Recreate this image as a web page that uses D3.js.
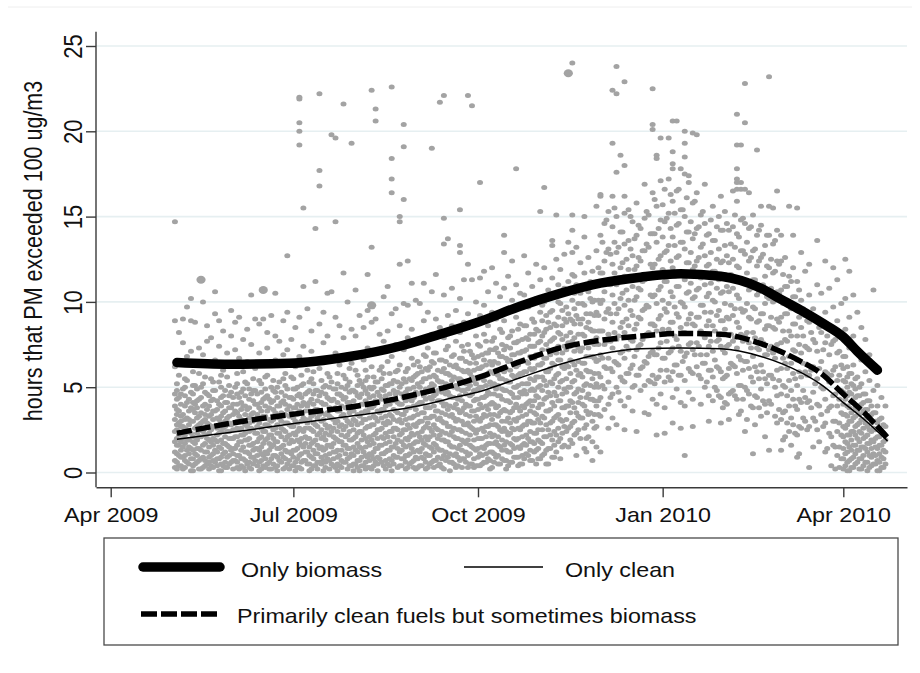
<!DOCTYPE html>
<html lang="en">
<head>
<meta charset="UTF-8">
<title>Hours PM exceeded 100 ug/m3</title>
<script src="https://d3js.org/d3.v7.min.js"></script>
<style>
  body { margin: 0; background: #fff; }
  text { font-family: "Liberation Sans", Arial, sans-serif; fill: #111; }
</style>
</head>
<body>
<div id="chart"></div>
<script>
// day offsets are counted from 1 May 2009
const startDay = Date.UTC(2009, 4, 1);

// daily observations, "day:values" (even days)
const obsEven = [
  "2:14.7 8.9 6.2 4.6 3.9 3.1 2.4 1.8 1.2 0.7 0.3",
  "4:8.2 5.7 4.4 3.6 2.9 2.2 1.6 1.0 0.4",
  "6:9.0 7.6 4.9 3.4 2.7 2.0 1.5 0.9 0.2",
  "8:9.7 6.8 5.4 4.1 3.2 2.5 1.9 1.3 0.6",
  "10:10.2 8.9 7.1 4.7 3.8 3.0 2.3 1.4 0.8 0.1",
  "12:8.8 6.4 5.1 4.0 3.5 2.6 1.7 1.1 0.5",
  "14:7.3 5.8 4.3 3.3 2.8 2.1 1.4 0.7 0.2",
  "16:10.0 6.9 5.2 3.9 3.0 2.4 1.6 0.9 0.3",
  "18:8.6 7.7 4.6 3.7 2.9 2.0 1.2 0.5",
  "20:7.9 5.5 4.2 3.4 2.5 1.8 1.0 0.4",
  "22:10.6 9.3 6.6 4.8 3.6 2.7 1.9 1.3 0.6",
  "24:8.9 7.4 5.3 4.0 3.1 2.3 1.5 0.8 0.1",
  "26:8.3 6.0 4.5 3.5 2.6 1.7 1.1 0.4",
  "28:7.0 5.6 4.1 3.2 2.4 1.6 0.9 0.3",
  "30:9.5 8.0 6.3 4.7 3.8 2.8 2.0 1.3 0.6",
  "32:8.8 7.2 5.0 3.6 2.9 2.1 1.4 0.7",
  "34:9.1 6.7 4.4 3.3 2.5 1.8 1.0 0.2",
  "36:7.8 5.9 4.9 3.9 3.0 2.2 1.5 0.8 0.3",
  "38:8.4 6.5 5.2 3.7 2.7 1.9 1.2 0.5",
  "40:10.4 7.5 4.6 3.4 2.6 1.6 0.9 0.2",
  "42:9.0 6.1 4.8 4.0 3.1 2.3 1.4 0.7",
  "44:8.7 7.0 5.4 3.8 2.9 2.0 1.3 0.6 0.1",
  "46:9.0 6.3 4.3 3.3 2.4 1.7 1.0 0.4",
  "48:8.2 7.3 5.7 4.5 3.6 2.8 2.0 1.1 0.5",
  "50:9.2 5.0 4.1 3.0 2.2 1.5 0.8 0.2",
  "52:10.5 8.0 6.6 4.7 3.5 2.6 1.8 1.0 0.3",
  "54:7.7 5.3 3.9 3.2 2.3 1.4 0.7",
  "56:8.9 6.9 5.5 4.2 3.4 2.5 1.6 0.9 0.2",
  "58:12.7 9.4 7.2 4.9 3.7 2.9 2.1 1.2 0.5",
  "60:7.8 5.6 4.4 3.5 2.7 1.9 1.1 0.4",
  "62:8.5 6.2 4.9 3.8 3.0 2.2 1.3 0.6 0.1",
  "64:22.0 21.9 20.5 20.0 19.2 9.1 6.8 4.6 3.6 2.6 1.8 1.0 0.3",
  "66:15.5 10.9 7.4 5.2 4.1 3.2 2.4 1.5 0.7",
  "68:9.6 6.0 4.7 3.9 2.9 2.0 1.2 0.5",
  "70:8.3 7.1 5.5 4.3 3.3 2.5 1.7 0.9 0.2",
  "72:14.3 11.2 6.5 4.8 3.7 2.8 1.9 1.1 0.4",
  "74:22.2 17.7 16.8 8.7 6.1 4.5 3.4 2.3 1.4 0.6",
  "76:9.4 7.6 5.0 4.0 3.1 2.1 1.3 0.7 0.1",
  "78:10.5 8.0 5.8 4.4 3.5 2.6 1.6 0.8",
  "80:19.8 10.6 6.7 5.3 4.2 3.2 2.4 1.5 0.5",
  "82:19.6 14.7 9.1 7.0 4.9 3.8 2.9 2.0 1.2 0.3",
  "84:8.6 6.3 4.6 3.6 2.7 1.8 1.0 0.4",
  "86:21.6 11.7 7.9 5.7 4.3 3.4 2.5 1.6 0.6",
  "88:10.0 6.9 5.1 4.1 3.0 2.2 1.4 0.8 0.2",
  "90:19.3 8.4 6.4 4.8 3.7 2.8 1.9 1.1 0.4",
  "92:10.7 8.0 6.0 4.7 3.9 3.0 2.1 1.3 0.5",
  "94:9.2 7.0 5.4 4.4 3.3 2.4 1.5 0.7 0.1",
  "96:8.5 6.6 5.0 4.0 3.1 2.2 1.2 0.4",
  "98:11.6 9.5 7.3 5.6 4.6 3.6 2.7 1.8 0.9 0.3",
  "100:22.4 13.2 8.8 6.2 4.9 3.8 2.8 1.9 1.0 0.2",
  "102:21.3 20.6 9.0 7.1 5.3 4.2 3.2 2.3 1.4 0.6",
  "104:8.1 6.0 4.5 3.5 2.5 1.6 0.8",
  "106:10.3 7.7 5.8 4.8 3.7 2.9 2.0 1.1 0.4",
  "108:10.9 8.3 6.5 5.1 4.1 3.0 2.1 1.3 0.5",
  "110:22.6 18.4 17.2 16.4 9.3 6.8 5.2 4.3 3.3 2.4 1.5 0.7 0.1",
  "112:9.6 7.5 5.9 4.6 3.6 2.6 1.7 0.9",
  "114:15.0 14.7 12.2 8.6 6.3 5.0 4.0 3.1 2.2 1.2 0.4",
  "116:20.4 19.1 16.0 9.9 7.2 5.5 4.4 3.4 2.5 1.6 0.8",
  "118:12.4 9.8 7.9 6.1 4.9 3.8 2.8 1.9 1.0 0.3",
  "120:11.1 8.4 6.7 5.4 4.2 3.2 2.3 1.4 0.6",
  "122:10.1 7.6 5.7 4.7 3.7 2.7 1.8 0.9 0.2",
  "124:9.9 7.8 6.2 5.0 4.1 3.0 2.1 1.2 0.4",
  "126:11.1 8.9 6.9 5.5 4.5 3.5 2.6 1.7 0.8",
  "128:9.4 7.3 6.0 4.8 3.8 2.9 1.9 1.0 0.3",
  "130:19.0 10.6 8.1 6.5 5.2 4.3 3.3 2.4 1.4 0.6",
  "132:11.6 9.0 7.0 5.6 4.6 3.6 2.6 1.6 0.7",
  "134:21.7 8.5 6.6 5.3 4.2 3.2 2.2 1.3 0.5",
  "136:22.1 14.9 13.4 10.4 7.9 6.1 4.9 3.9 2.9 1.9 1.0 0.2",
  "138:13.7 9.2 7.4 5.8 4.7 3.7 2.7 1.8 0.9",
  "140:10.8 8.6 6.8 5.4 4.4 3.4 2.4 1.5 0.6",
  "142:9.5 7.7 6.3 5.1 4.0 3.0 2.0 1.1 0.3",
  "144:15.4 13.3 12.9 10.2 8.2 6.7 5.5 4.5 3.5 2.5 1.6 0.7",
  "146:11.3 8.8 7.1 5.9 4.8 3.8 2.8 1.8 0.8",
  "148:22.1 12.2 9.3 7.5 6.0 4.9 3.9 2.9 1.9 1.0 0.3",
  "150:21.5 11.3 8.7 6.9 5.6 4.6 3.6 2.6 1.5 0.5",
  "152:10.0 8.0 6.4 5.2 4.3 3.3 2.3 1.3 0.4",
  "154:17.0 11.4 9.2 7.4 6.1 5.0 4.0 3.0 2.0 1.1 0.4",
  "156:11.8 9.8 8.1 6.6 5.4 4.4 3.4 2.4 1.4 0.6",
  "158:10.6 8.6 7.0 5.8 4.7 3.7 2.7 1.7 0.8",
  "160:12.0 9.4 7.7 6.3 5.1 4.1 3.1 2.1 1.2 0.3",
  "162:11.1 9.0 7.3 6.0 4.9 3.8 2.8 1.8 0.9",
  "164:10.3 8.4 6.8 5.5 4.5 3.5 2.5 1.5 0.5",
  "166:13.9 12.9 10.8 8.9 7.2 5.9 4.8 3.7 2.6 1.6 0.7",
  "168:11.5 9.6 7.9 6.5 5.3 4.2 3.2 2.2 1.2 0.4",
  "170:12.4 10.1 8.3 6.9 5.7 4.6 3.6 2.6 1.6 0.6",
  "172:17.8 11.0 9.1 7.6 6.2 5.0 4.0 3.0 1.9 0.9",
  "174:10.5 8.7 7.0 5.8 4.7 3.6 2.5 1.4 0.5",
  "176:12.7 10.4 8.6 7.1 5.9 4.8 3.8 2.8 1.7 0.8",
  "178:11.7 9.7 7.8 6.4 5.2 4.1 3.0 2.0 1.0",
  "180:10.9 9.0 7.4 6.0 4.9 3.9 2.9 1.8 0.7",
  "182:12.2 10.2 8.4 6.9 5.6 4.5 3.4 2.3 1.3 0.5",
  "184:15.3 11.3 9.4 7.7 6.3 5.1 4.0 2.9 1.8 0.8",
  "186:16.7 12.0 10.0 8.2 6.7 5.4 4.3 3.2 2.1 1.1",
  "188:10.7 8.8 7.2 5.9 4.7 3.6 2.5 1.4 0.5",
  "190:13.6 13.3 11.4 9.5 7.8 6.4 5.2 4.1 3.0 1.9 0.9",
  "192:15.1 12.5 10.4 8.6 7.0 5.7 4.5 3.3 2.2 1.2",
  "194:11.9 9.9 8.1 6.6 5.3 4.2 3.1 2.0 0.8",
  "196:12.8 10.8 9.0 7.4 6.1 4.9 3.8 2.7 1.6",
  "198:13.5 11.2 9.3 7.6 6.2 5.0 3.9 2.6 1.5",
  "200:24.0 15.1 14.2 12.9 11.6 10.1 8.9 7.7 6.5 5.3 4.1 2.9 1.7",
  "202:13.2 11.0 9.2 7.5 6.0 4.7 3.5 2.3 1.0",
  "204:12.3 10.5 8.7 7.1 5.8 4.4 3.2 2.0",
  "206:15.0 13.8 11.7 9.8 8.0 6.4 5.1 3.9 2.6 1.4",
  "208:12.6 10.6 8.8 7.3 5.9 4.6 3.4 2.1",
  "210:11.8 10.0 8.3 6.8 5.5 4.3 3.0 1.8 0.7",
  "212:15.6 13.0 11.1 9.4 7.9 6.5 5.2 3.9 2.7 1.5",
  "214:16.2 16.3 13.9 11.7 9.9 8.3 6.9 5.6 4.4 3.3 1.2",
  "216:14.6 12.4 10.6 9.0 7.5 6.2 4.9 3.7",
  "218:15.3 13.1 11.2 9.6 8.1 6.7 5.3 4.0 2.6",
  "220:22.4 19.3 16.2 14.4 12.2 10.4 8.8 7.3 5.9 4.6 3.2",
  "222:23.8 22.2 17.6 15.0 12.9 11.0 9.3 7.8 6.4 5.0 2.8",
  "224:18.6 14.1 12.0 10.2 8.5 7.0 5.6 4.2",
  "226:22.9 18.0 16.2 15.2 13.4 11.5 9.8 8.2 6.7 5.3 3.9 2.5",
  "228:15.4 13.6 11.9 10.1 8.6 7.2 5.8 4.4",
  "230:14.7 12.7 10.9 9.2 7.7 6.3 5.0 3.6",
  "232:15.8 13.9 12.1 10.3 8.7 7.2 5.7 2.4",
  "234:14.3 12.4 10.7 9.0 7.5 6.1 4.8",
  "236:16.9 14.9 13.0 11.3 9.6 8.0 6.5 5.1 3.5",
  "238:15.1 13.2 11.4 9.7 8.2 6.8 5.4 3.4",
  "240:22.5 20.4 20.1 16.4 14.0 12.0 10.3 8.7 7.1 5.7 4.3",
  "242:18.6 18.4 15.6 13.5 11.6 9.9 8.3 6.9 5.5 4.0 2.2",
  "244:19.6 17.1 14.8 12.7 10.9 9.2 7.6 6.0 4.6",
  "246:16.6 14.7 12.9 11.2 9.6 8.1 6.7 5.3 3.8 2.3",
  "248:19.6 17.2 15.2 13.3 11.5 9.9 8.4 7.0 5.6",
  "250:20.6 18.8 18.1 17.8 15.9 13.8 12.0 10.3 8.8 7.3 5.9 4.4 2.9",
  "252:20.6 16.5 14.5 12.6 10.9 9.3 7.8 6.3 4.9",
  "254:17.8 15.4 13.5 11.7 10.0 8.5 7.1 5.7 4.1 2.6",
  "256:20.0 19.3 18.5 17.5 15.0 13.1 11.3 9.7 8.2 6.8 5.4 3.9 1.0",
  "258:17.4 17.0 14.1 12.3 10.6 9.0 7.5 6.1 4.7",
  "260:19.9 15.8 13.7 11.9 10.2 8.7 7.2 5.8 4.3 2.7",
  "262:19.8 16.4 14.3 12.4 10.7 9.1 7.6 6.2",
  "264:15.1 13.2 11.4 9.8 8.3 6.9 5.5 4.0",
  "266:16.9 14.6 12.7 11.0 9.4 7.9 6.4 5.0",
  "268:14.0 12.2 10.5 8.9 7.4 6.0 4.5 3.0",
  "270:15.6 13.6 11.8 10.1 8.6 7.1 5.6 4.2",
  "272:14.4 12.5 10.8 9.2 7.7 6.2 4.8",
  "274:16.2 14.2 12.3 10.5 8.9 7.4 5.9 4.4 2.9",
  "276:15.3 13.3 11.6 9.9 8.4 7.0 5.6 4.1",
  "278:14.2 12.3 10.6 9.0 7.5 6.1 4.6 3.1",
  "280:16.5 14.4 12.5 10.8 9.2 7.7 6.3 4.8",
  "282:21.0 19.2 17.8 17.2 17.0 16.6 15.9 14.0 12.1 10.4 8.8 7.3 5.8 4.3",
  "284:19.2 17.0 16.6 14.8 13.0 11.2 9.6 8.1 6.6 5.1 3.6",
  "286:22.8 20.5 16.6 14.6 12.8 11.1 9.5 8.0 6.5 5.0 2.4",
  "288:16.4 14.3 12.4 10.7 9.1 7.6 6.1 4.6",
  "290:15.1 13.0 11.3 9.7 8.2 6.8 5.3 3.8 1.1",
  "292:18.9 13.9 12.1 10.4 8.8 7.3 5.9 4.4",
  "294:15.6 14.5 12.6 10.9 9.3 7.8 6.3 4.9 3.3",
  "296:13.3 11.5 9.9 8.4 6.9 5.5 4.0 2.1",
  "298:23.2 15.6 13.9 12.0 10.2 8.6 7.2 5.7 4.2 1.3",
  "300:15.5 13.4 11.7 10.0 8.5 7.0 5.5",
  "302:16.5 14.2 12.4 10.6 9.0 7.5 6.0 4.5 2.9",
  "304:13.9 12.4 10.7 9.1 7.6 6.1 4.6 3.1 1.3",
  "306:12.6 10.9 9.3 7.8 6.4 5.0 3.6 2.1",
  "308:15.6 11.5 9.8 8.3 6.8 5.4 3.9 2.4",
  "310:13.9 12.0 10.3 8.7 7.2 5.8 4.3 2.8",
  "312:15.5 11.2 9.5 8.0 6.6 5.1 3.7 2.2 0.9",
  "314:12.9 10.1 8.5 7.0 5.6 4.1 2.6",
  "316:11.8 9.2 7.4 5.9 4.4 3.0",
  "318:12.2 10.4 8.8 7.2 5.7 4.2 2.7 0.3",
  "320:9.6 7.8 6.2 4.7 3.2 1.5",
  "322:13.6 11.0 8.9 7.1 5.5 4.0 2.5",
  "324:10.5 8.2 6.5 5.0 3.4",
  "326:12.4 9.4 7.6 5.9 4.3 2.9 1.2",
  "328:10.8 8.6 6.9 5.3 3.8 2.3",
  "330:12.0 9.7 7.7 6.0 4.5 3.0 1.6",
  "332:11.3 8.9 7.0 5.4 3.9 2.4 1.0",
  "334:9.9 7.9 6.3 4.8 3.5 2.2 0.8",
  "336:12.5 10.2 8.4 6.8 5.3 4.3 3.4 2.6 1.8 1.1 0.4",
  "338:11.8 9.1 7.3 5.8 4.7 3.8 3.0 2.2 1.5 0.7 0.1",
  "340:10.4 8.0 6.3 5.1 4.1 3.2 2.4 1.6 0.9 0.3",
  "342:9.4 7.2 5.6 4.5 3.6 2.8 2.0 1.3 0.6",
  "344:8.5 6.6 5.2 4.0 3.1 2.3 1.5 0.8 0.2",
  "346:7.8 5.9 4.6 3.7 2.9 2.1 1.4 0.6",
  "348:6.9 5.4 4.2 3.3 2.5 1.7 1.0 0.3",
  "350:10.7 6.2 4.8 3.5 2.6 1.8 1.1 0.5",
  "352:5.1 3.9 2.9 2.1 1.4 0.7 0.1",
  "354:4.4 3.2 2.4 1.6 0.9 0.3",
  "356:3.9 2.7 1.9 1.2 0.5"
];

// odd days
const obsOdd = [
  "3:5.2 4.8 4.3 3.7 3.4 2.8 2.5 2.0 1.6 1.1 0.6 0.2",
  "5:4.6 4.0 3.3 3.0 2.7 2.3 1.8 1.3 0.9 0.4",
  "7:5.5 5.0 4.5 3.9 3.1 2.6 2.2 1.7 1.0 0.7 0.3",
  "9:4.3 3.6 3.1 2.8 2.4 1.9 1.5 1.1 0.5",
  "11:5.9 5.1 4.6 4.1 3.7 3.0 2.1 1.8 1.3 0.8 0.4 0.1",
  "13:4.9 4.2 3.8 3.2 2.7 2.3 1.9 1.4 1.0 0.6",
  "15:5.0 4.4 3.5 2.9 2.5 2.1 1.3 0.8 0.2",
  "17:5.6 4.7 4.0 3.4 3.1 2.6 2.2 1.7 1.2 0.7 0.4",
  "19:4.5 3.9 3.3 2.8 2.3 1.9 1.5 0.9 0.6 0.2",
  "21:5.3 4.8 4.3 3.6 3.1 2.7 2.0 1.6 1.1 0.7 0.3",
  "23:4.2 3.7 3.2 2.6 2.2 1.8 1.2 0.8 0.4",
  "25:5.7 5.0 4.4 3.9 3.3 2.9 2.4 1.9 1.4 0.9 0.5 0.1",
  "27:4.8 4.1 3.6 3.0 2.7 2.1 1.7 1.2 0.6 0.3",
  "29:5.1 4.5 3.8 3.3 2.9 2.4 2.0 1.5 1.0 0.5",
  "31:4.4 4.0 3.4 2.9 2.5 2.0 1.4 1.1 0.7 0.2",
  "33:5.8 5.2 4.6 4.0 3.5 3.0 2.6 2.1 1.6 1.0 0.6 0.3",
  "35:4.7 4.1 3.7 3.1 2.6 2.2 1.8 1.3 0.8 0.4",
  "37:5.3 4.5 3.9 3.4 2.8 2.3 1.9 1.2 0.7 0.1",
  "39:4.9 4.3 3.8 3.2 2.9 2.4 2.0 1.6 1.1 0.6 0.3",
  "41:5.5 4.8 4.2 3.5 3.0 2.5 1.7 1.3 0.9 0.5",
  "43:4.6 4.0 3.4 2.7 2.3 1.8 1.4 1.0 0.4",
  "45:5.2 4.7 4.1 3.6 3.2 2.6 2.1 1.5 1.1 0.7 0.2",
  "47:5.6 4.9 4.4 3.9 3.3 2.8 2.4 1.9 1.2 0.8 0.3",
  "49:4.3 3.8 3.1 2.7 2.2 1.7 1.3 0.6 0.2",
  "51:5.4 4.8 4.2 3.7 3.1 2.5 2.0 1.6 1.0 0.5",
  "53:5.0 4.4 3.9 3.3 2.8 2.3 1.8 1.4 0.9 0.4 0.1",
  "55:4.7 4.1 3.5 3.0 2.6 2.1 1.5 1.1 0.6",
  "57:5.8 5.1 4.5 4.0 3.4 2.9 2.4 1.9 1.3 0.8 0.3",
  "59:4.4 3.9 3.3 2.8 2.2 1.7 1.2 0.7 0.2",
  "61:5.5 4.9 4.3 3.8 3.2 2.7 2.3 1.8 1.3 0.9 0.4",
  "63:5.0 4.5 4.0 3.4 2.9 2.4 1.9 1.4 0.8 0.3",
  "65:5.7 5.1 4.4 3.9 3.5 3.0 2.5 2.0 1.6 1.1 0.6 0.2",
  "67:4.6 4.0 3.6 3.1 2.6 2.1 1.7 1.2 0.7",
  "69:5.3 4.8 4.1 3.6 3.1 2.6 2.0 1.5 1.0 0.5 0.1",
  "71:5.9 5.2 4.6 4.0 3.4 2.9 2.4 1.8 1.3 0.8 0.4",
  "73:4.8 4.2 3.7 3.2 2.7 2.2 1.6 1.1 0.6 0.2",
  "75:5.4 4.7 4.1 3.5 3.0 2.5 2.0 1.5 0.9 0.5",
  "77:5.1 4.6 4.0 3.4 2.8 2.3 1.9 1.4 1.0 0.6 0.3",
  "79:5.6 5.0 4.3 3.8 3.3 2.7 2.2 1.6 1.1 0.7 0.2",
  "81:4.9 4.3 3.7 3.1 2.6 2.1 1.7 1.2 0.8 0.4",
  "83:5.8 5.2 4.6 4.1 3.6 3.0 2.4 1.9 1.3 0.9 0.5 0.1",
  "85:5.0 4.5 3.9 3.3 2.8 2.2 1.8 1.3 0.7 0.3",
  "87:5.5 4.9 4.4 3.8 3.2 2.7 2.1 1.6 1.1 0.6",
  "89:6.1 5.3 4.7 4.1 3.5 2.9 2.4 1.9 1.4 0.9 0.4",
  "91:4.8 4.2 3.6 3.1 2.5 2.0 1.5 1.0 0.5 0.1",
  "93:5.7 5.1 4.5 3.9 3.4 2.8 2.3 1.7 1.2 0.7 0.3",
  "95:5.2 4.6 4.0 3.5 2.9 2.4 1.9 1.4 0.9 0.4",
  "97:6.0 5.4 4.8 4.2 3.6 3.1 2.6 2.0 1.5 1.0 0.6 0.2",
  "99:5.0 4.4 3.8 3.2 2.7 2.1 1.6 1.1 0.7 0.3",
  "101:5.6 5.0 4.5 3.9 3.3 2.8 2.2 1.7 1.2 0.8 0.4",
  "103:5.3 4.7 4.1 3.6 3.0 2.5 2.0 1.4 0.9 0.5 0.1",
  "105:6.2 5.5 4.9 4.3 3.7 3.2 2.6 2.1 1.6 1.1 0.6",
  "107:5.1 4.5 3.9 3.3 2.8 2.3 1.7 1.2 0.7 0.2",
  "109:5.8 5.2 4.6 4.0 3.4 2.9 2.4 1.8 1.3 0.8 0.4",
  "111:5.4 4.8 4.2 3.7 3.1 2.6 2.1 1.5 1.0 0.5",
  "113:6.0 5.3 4.7 4.1 3.5 3.0 2.5 1.9 1.4 0.9 0.3",
  "115:5.2 4.6 4.0 3.4 2.9 2.3 1.8 1.3 0.8 0.4",
  "117:5.9 5.3 4.7 4.2 3.6 3.1 2.5 2.0 1.5 1.0 0.6 0.2",
  "119:5.5 4.9 4.3 3.8 3.2 2.6 2.1 1.6 1.1 0.5",
  "121:6.3 5.6 5.0 4.4 3.9 3.3 2.8 2.2 1.7 1.2 0.7 0.3",
  "123:6.5 5.8 5.2 4.6 4.0 3.4 2.9 2.3 1.8 1.3 0.8 0.3",
  "125:5.9 5.3 4.7 4.1 3.5 3.0 2.4 1.9 1.4 0.9 0.4",
  "127:6.8 6.1 5.5 4.9 4.3 3.8 3.2 2.7 2.1 1.6 1.1 0.6 0.2",
  "129:6.2 5.6 5.0 4.4 3.8 3.2 2.6 2.1 1.5 1.0 0.5",
  "131:7.0 6.4 5.7 5.1 4.5 3.9 3.3 2.8 2.2 1.7 1.2 0.7 0.3",
  "133:6.0 5.4 4.8 4.2 3.6 3.1 2.5 2.0 1.4 0.9 0.4",
  "135:6.6 5.9 5.3 4.7 4.1 3.5 3.0 2.4 1.9 1.3 0.8 0.3",
  "137:7.2 6.5 5.8 5.2 4.6 4.0 3.4 2.9 2.3 1.8 1.2 0.7",
  "139:6.3 5.7 5.1 4.5 3.9 3.3 2.7 2.2 1.6 1.1 0.6 0.1",
  "141:6.9 6.2 5.6 5.0 4.4 3.8 3.2 2.6 2.1 1.5 1.0 0.5",
  "143:6.1 5.5 4.9 4.3 3.7 3.1 2.5 2.0 1.4 0.9 0.4",
  "145:7.4 6.7 6.0 5.4 4.8 4.2 3.6 3.0 2.4 1.9 1.3 0.8 0.3",
  "147:6.5 5.9 5.2 4.6 4.0 3.4 2.8 2.3 1.7 1.2 0.6",
  "149:7.1 6.4 5.8 5.1 4.5 3.9 3.3 2.7 2.2 1.6 1.1 0.5",
  "151:6.7 6.0 5.4 4.8 4.2 3.6 3.0 2.5 1.9 1.4 0.8 0.3",
  "153:7.5 6.8 6.1 5.5 4.9 4.3 3.7 3.1 2.5 2.0 1.4 0.9 0.4",
  "155:6.9 6.2 5.6 5.0 4.4 3.8 3.2 2.6 2.0 1.5 1.0 0.5",
  "157:7.7 7.0 6.3 5.7 5.1 4.5 3.9 3.3 2.7 2.1 1.6 1.1 0.6",
  "159:7.2 6.5 5.9 5.3 4.6 4.0 3.4 2.8 2.3 1.7 1.2 0.7 0.2",
  "161:7.9 7.2 6.5 5.8 5.2 4.6 4.0 3.4 2.8 2.2 1.7 1.1 0.6",
  "163:7.0 6.4 5.7 5.1 4.5 3.9 3.3 2.7 2.1 1.6 1.0 0.5",
  "165:8.2 7.5 6.8 6.1 5.5 4.9 4.3 3.6 3.0 2.4 1.9 1.3 0.8",
  "167:7.4 6.7 6.1 5.4 4.8 4.2 3.6 3.0 2.4 1.8 1.3 0.7 0.2",
  "169:8.0 7.3 6.6 6.0 5.3 4.7 4.1 3.5 2.9 2.3 1.7 1.2 0.6",
  "171:7.6 6.9 6.3 5.6 5.0 4.4 3.8 3.1 2.5 2.0 1.4 0.9",
  "173:8.4 7.7 7.0 6.3 5.7 5.1 4.4 3.8 3.2 2.6 2.0 1.5 0.9 0.4",
  "175:7.8 7.1 6.5 5.8 5.2 4.6 3.9 3.3 2.7 2.1 1.6 1.0 0.5",
  "177:8.6 7.9 7.2 6.5 5.9 5.2 4.6 4.0 3.4 2.8 2.2 1.6 1.1",
  "179:8.1 7.4 6.8 6.1 5.5 4.8 4.2 3.6 3.0 2.4 1.8 1.3 0.7",
  "181:8.8 8.1 7.4 6.7 6.1 5.4 4.8 4.2 3.5 2.9 2.3 1.7 1.2",
  "183:8.3 7.6 6.9 6.3 5.6 5.0 4.4 3.8 3.1 2.5 1.9 1.4 0.8",
  "185:9.8 8.9 8.0 7.2 6.4 5.6 4.8 4.0 3.3 2.5 1.7 1.0",
  "187:9.2 8.4 7.5 6.7 5.9 5.1 4.4 3.6 2.8 2.1 1.3 0.5",
  "189:10.3 9.4 8.5 7.7 6.9 6.1 5.3 4.5 3.7 2.9 2.2 1.4",
  "191:8.7 7.9 7.1 6.3 5.5 4.7 3.9 3.2 2.4 1.6 0.9",
  "193:11.0 10.0 9.1 8.2 7.4 6.6 5.8 5.0 4.2 3.4 2.6 1.8",
  "195:9.5 8.6 7.8 7.0 6.2 5.4 4.6 3.8 3.0 2.3 1.5",
  "197:10.6 9.7 8.8 8.0 7.2 6.3 5.5 4.7 3.9 3.1 2.4",
  "199:9.0 8.2 7.4 6.6 5.8 5.0 4.2 3.5 2.7 1.9",
  "201:11.5 10.5 9.6 8.7 7.9 7.1 6.3 5.4 4.6 3.8 3.0 2.2",
  "203:9.9 9.0 8.1 7.3 6.5 5.7 4.9 4.1 3.3 2.5",
  "205:10.8 9.9 9.0 8.1 7.3 6.4 5.6 4.8 4.0 3.2",
  "207:9.3 8.5 7.6 6.8 6.0 5.2 4.4 3.6 2.8 2.0 1.2",
  "209:11.2 10.2 9.3 8.4 7.6 6.8 5.9 5.1 4.3 3.5",
  "211:10.1 9.2 8.3 7.5 6.7 5.8 5.0 4.2 3.4 2.6",
  "213:12.0 11.0 10.1 9.2 8.3 7.5 6.6 5.8 5.0 4.2 3.4",
  "215:13.5 11.7 10.1 8.3 6.7 5.1",
  "217:14.8 12.9 11.1 9.4 7.7 6.1",
  "219:12.8 11.0 9.3 7.7 6.1 4.4",
  "221:15.5 13.5 11.7 9.9 8.2 6.5",
  "223:13.2 11.4 9.6 8.0 6.3 4.7",
  "225:14.1 12.3 10.5 8.8 7.1 5.4",
  "227:12.5 10.7 9.0 7.4 5.8",
  "229:15.0 13.1 11.3 9.5 7.8 6.1",
  "231:13.7 11.9 10.1 8.4 6.8 5.1",
  "233:14.5 12.6 10.8 9.1 7.4 5.7",
  "235:13.0 11.2 9.5 7.8 6.2",
  "237:15.3 13.4 11.6 9.8 8.1 6.4",
  "239:14.0 12.2 10.4 8.7 7.0 5.3",
  "241:16.0 14.0 12.2 10.4 8.6 6.9 5.2",
  "243:14.3 12.5 10.7 9.0 7.3 5.6",
  "245:15.7 13.8 11.9 10.1 8.4 6.7",
  "247:14.9 13.0 11.2 9.4 7.7 6.0",
  "249:16.3 14.3 12.4 10.6 8.8 7.1 5.4",
  "251:15.2 13.3 11.5 9.7 8.0 6.3",
  "253:16.6 14.6 12.7 10.9 9.1 7.4 5.7",
  "255:15.4 13.5 11.7 9.9 8.2 6.5",
  "257:16.1 14.1 12.3 10.5 8.7 7.0",
  "259:14.7 12.9 11.1 9.3 7.6 5.9",
  "261:15.9 14.0 12.1 10.3 8.6 6.9",
  "263:14.4 12.6 10.8 9.1 7.4 5.7",
  "265:15.3 13.4 11.6 9.8 8.1 6.4",
  "267:13.9 12.1 10.3 8.6 6.9 5.3",
  "269:14.8 12.9 11.1 9.4 7.7 6.0",
  "271:13.6 11.8 10.0 8.3 6.6 5.0",
  "273:15.0 13.1 11.3 9.5 7.8 6.1 4.5",
  "275:14.2 12.4 10.6 8.9 7.2 5.5 3.8",
  "277:14.6 12.7 10.9 9.1 7.4 5.7 4.0",
  "279:13.4 11.6 9.8 8.1 6.4 4.7",
  "281:15.1 13.2 11.4 9.6 7.9 6.2 4.5",
  "283:13.8 12.0 10.2 8.5 6.8 5.1 3.4",
  "285:14.9 13.0 11.2 9.4 7.7 6.0 4.3",
  "287:13.5 11.7 9.9 8.2 6.5 4.8 3.1",
  "289:14.4 12.6 10.8 9.0 7.3 5.6 3.9",
  "291:13.1 11.3 9.6 7.9 6.2 4.5 2.8",
  "293:14.2 12.4 10.6 8.9 7.2 5.5 3.8",
  "295:12.8 11.0 9.3 7.6 5.9 4.2",
  "297:13.9 12.1 10.3 8.6 6.9 5.2 3.5",
  "299:12.5 10.8 9.1 7.4 5.7 4.0",
  "301:13.6 11.8 10.1 8.4 6.7 5.0 3.3",
  "303:12.2 10.5 8.8 7.1 5.4 3.7",
  "305:11.6 9.9 8.3 6.7 5.1 3.5 1.9",
  "307:10.9 9.3 7.7 6.1 4.5 2.9",
  "309:11.2 9.6 8.0 6.4 4.8 3.2 1.6",
  "311:10.3 8.7 7.1 5.5 3.9 2.3",
  "313:10.7 9.1 7.5 5.9 4.3 2.7 1.1",
  "315:9.6 8.0 6.4 4.8 3.2",
  "317:8.9 7.3 5.7 4.1 2.5",
  "319:8.2 6.0 3.8",
  "321:7.6 5.2 3.0",
  "323:8.5 6.1 3.9 1.8",
  "325:7.2 4.9 2.7",
  "327:8.0 5.8 3.6 1.4",
  "329:7.5 5.7 3.9 2.1 0.4",
  "331:7.8 6.2 4.6 3.0 1.5 0.2",
  "333:7.1 5.7 4.3 2.9 1.5 0.3",
  "335:6.8 6.1 5.4 4.7 4.0 3.4 2.7 2.1 1.4 0.8 0.2",
  "337:6.2 5.6 5.0 4.5 3.9 3.3 2.8 2.2 1.7 1.2 0.6 0.1",
  "339:5.8 5.2 4.6 4.1 3.5 3.0 2.4 1.9 1.3 0.8 0.3",
  "341:5.5 4.9 4.4 3.8 3.3 2.7 2.2 1.6 1.1 0.5",
  "343:5.0 4.5 3.9 3.4 2.9 2.4 1.8 1.3 0.8 0.2",
  "345:4.6 4.1 3.6 3.1 2.6 2.0 1.5 1.0 0.4",
  "347:4.2 3.7 3.2 2.7 2.2 1.7 1.2 0.6 0.1",
  "349:3.9 3.4 2.9 2.4 1.9 1.4 0.9 0.4",
  "351:3.5 3.0 2.5 2.0 1.5 1.0 0.5",
  "353:3.1 2.6 2.1 1.6 1.1 0.6 0.1",
  "355:2.8 2.3 1.8 1.3 0.8 0.3"
];

// a few heavier (overlapping) observations
const bigDays = [15, 46, 100, 198];
const bigValues = [11.3, 10.7, 9.8, 23.4];

// smoothed lines
const lineDates = ["2009-05-04", "2009-05-30", "2009-06-29", "2009-07-29", "2009-08-23", "2009-09-12",
  "2009-10-02", "2009-10-22", "2009-11-11", "2009-12-01", "2009-12-21", "2010-01-10", "2010-01-30",
  "2010-02-19", "2010-03-01", "2010-03-11", "2010-03-21", "2010-04-01", "2010-04-08", "2010-04-18"];
const biomassValues = [6.45, 6.35, 6.4, 6.8, 7.4, 8.1, 8.85, 9.75, 10.5, 11.1, 11.45, 11.65, 11.5,
  10.8, 10.15, 9.5, 8.8, 7.95, 7.1, 6.0];

const otherDates = ["2009-05-04", "2009-06-03", "2009-07-03", "2009-08-02", "2009-09-01", "2009-09-21",
  "2009-10-02", "2009-10-22", "2009-11-11", "2009-12-01", "2009-12-21", "2010-01-10", "2010-01-30",
  "2010-02-19", "2010-03-11", "2010-03-21", "2010-04-01", "2010-04-11", "2010-04-23"];
const mixedValues = [2.3, 2.95, 3.45, 3.9, 4.6, 5.2, 5.6, 6.5, 7.3, 7.75, 8.0, 8.15, 8.1,
  7.55, 6.5, 5.8, 4.6, 3.55, 2.05];
const cleanValues = [1.95, 2.4, 2.9, 3.35, 3.9, 4.45, 4.75, 5.55, 6.35, 6.95, 7.25, 7.3, 7.25,
  6.8, 5.85, 5.15, 4.1, 3.15, 1.85];

const xTicks = ["2009-04-01", "2009-07-01", "2009-10-01", "2010-01-01", "2010-04-01"];
const yTicks = [0, 5, 10, 15, 20, 25];
const yTitle = "hours that PM exceeded 100 ug/m3";
const legendLabels = ["Only biomass", "Only clean", "Primarily clean fuels but sometimes biomass"];

const width = 920, height = 673;
const stretch = 1.165;  // the picture is wider than its text height

const svg = d3.select("#chart").append("svg")
  .attr("width", width)
  .attr("height", height);

const parse = d3.utcParse("%Y-%m-%d");
const dayToDate = d => new Date(startDay + d * 86400000);

const x = d3.scaleUtc()
  .domain([parse("2009-04-01"), parse("2010-04-01")])
  .range([110.7, 843.3]);
x.domain([x.invert(96), x.invert(907)]).range([96, 907]);

const y = d3.scaleLinear()
  .domain([0, 25])
  .range([472.5, 46]);

// outer frame line
svg.append("line")
  .attr("x1", 8).attr("x2", 912).attr("y1", 7).attr("y2", 7)
  .attr("stroke", "#eeeeee").attr("stroke-width", 1);

// gridlines
svg.append("g").selectAll("line")
  .data(yTicks)
  .enter().append("line")
  .attr("x1", 96).attr("x2", 907)
  .attr("y1", d => y(d)).attr("y2", d => y(d))
  .attr("stroke", "#e6eff1")
  .attr("stroke-width", 1.6);

// scatter
const points = [];
obsEven.concat(obsOdd).forEach(function (s) {
  const parts = s.split(":");
  const day = +parts[0];
  parts[1].split(" ").forEach(function (v) {
    points.push({ date: dayToDate(day), value: +v });
  });
});

svg.append("g").selectAll("ellipse")
  .data(points)
  .enter().append("ellipse")
  .attr("cx", d => x(d.date))
  .attr("cy", d => y(d.value))
  .attr("rx", 3.0)
  .attr("ry", 2.5)
  .attr("fill", "#a3a3a3");

svg.append("g").selectAll("ellipse")
  .data(bigDays.map((d, i) => ({ date: dayToDate(d), value: bigValues[i] })))
  .enter().append("ellipse")
  .attr("cx", d => x(d.date))
  .attr("cy", d => y(d.value))
  .attr("rx", 4.6)
  .attr("ry", 4.0)
  .attr("fill", "#a3a3a3");

// axes
const xAxis = svg.append("g")
  .attr("transform", "translate(0,487.3)")
  .call(d3.axisBottom(x)
    .tickValues(xTicks.map(parse))
    .tickFormat(d3.utcFormat("%b %Y"))
    .tickSize(10)
    .tickSizeOuter(0));
xAxis.select(".domain").attr("stroke", "#3a3a3a").attr("stroke-width", 1.4);
xAxis.selectAll(".tick line").attr("stroke", "#3a3a3a").attr("stroke-width", 1.4);
xAxis.selectAll(".tick text")
  .attr("y", 0).attr("dy", null)
  .attr("transform", "translate(0,35) scale(" + stretch + ",1)")
  .style("font-size", "20px")
  .style("font-family", "'Liberation Sans', Arial, sans-serif")
  .attr("fill", "#111");

const yAxis = svg.append("g")
  .attr("transform", "translate(96,0)")
  .call(d3.axisLeft(y)
    .tickValues(yTicks)
    .tickSize(10)
    .tickSizeOuter(0));
yAxis.select(".domain").remove();
yAxis.append("line")
  .attr("x1", 0).attr("x2", 0).attr("y1", 31.7).attr("y2", 487.3)
  .attr("stroke", "#3a3a3a").attr("stroke-width", 1.4);
yAxis.selectAll(".tick line").attr("stroke", "#3a3a3a").attr("stroke-width", 1.4);
yAxis.selectAll(".tick text")
  .attr("x", 0).attr("y", 0).attr("dy", null)
  .attr("text-anchor", "middle")
  .attr("transform", "translate(-14.5,0) scale(" + stretch + ",1) rotate(-90)")
  .style("font-size", "22px")
  .style("font-family", "'Liberation Sans', Arial, sans-serif")
  .attr("fill", "#111");

svg.append("text")
  .attr("text-anchor", "middle")
  .attr("transform", "translate(42,251) scale(" + stretch + ",1) rotate(-90)")
  .style("font-size", "21.5px")
  .text(yTitle);

// smoothed lines
const line = d3.line()
  .x(d => x(d[0]))
  .y(d => y(d[1]))
  .curve(d3.curveMonotoneX);

const biomass = lineDates.map((d, i) => [parse(d), biomassValues[i]]);
const mixed = otherDates.map((d, i) => [parse(d), mixedValues[i]]);
const clean = otherDates.map((d, i) => [parse(d), cleanValues[i]]);

svg.append("path")
  .attr("d", line(clean))
  .attr("fill", "none")
  .attr("stroke", "#000")
  .attr("stroke-width", 1.5);

svg.append("path")
  .attr("d", line(mixed))
  .attr("fill", "none")
  .attr("stroke", "#000")
  .attr("stroke-width", 5.5)
  .attr("stroke-dasharray", "15,4");

svg.append("path")
  .attr("d", line(biomass))
  .attr("fill", "none")
  .attr("stroke", "#000")
  .attr("stroke-width", 9.5)
  .attr("stroke-linecap", "round");

// legend
svg.append("rect")
  .attr("x", 104).attr("y", 538)
  .attr("width", 794).attr("height", 107)
  .attr("fill", "#fff")
  .attr("stroke", "#4a4a4a")
  .attr("stroke-width", 1.3);

svg.append("line")
  .attr("x1", 143).attr("x2", 220).attr("y1", 567).attr("y2", 567)
  .attr("stroke", "#000").attr("stroke-width", 9.5).attr("stroke-linecap", "round");
svg.append("line")
  .attr("x1", 464).attr("x2", 543).attr("y1", 567).attr("y2", 567)
  .attr("stroke", "#000").attr("stroke-width", 1.5);
svg.append("line")
  .attr("x1", 141).attr("x2", 218).attr("y1", 614).attr("y2", 614)
  .attr("stroke", "#000").attr("stroke-width", 5.5).attr("stroke-dasharray", "16,4");

const legendPos = [[241, 577], [565, 577], [237, 623]];
svg.append("g").selectAll("text")
  .data(legendLabels)
  .enter().append("text")
  .attr("transform", (d, i) => "translate(" + legendPos[i][0] + "," + legendPos[i][1] + ") scale(" + stretch + ",1)")
  .style("font-size", "20px")
  .text(d => d);
</script>
</body>
</html>
